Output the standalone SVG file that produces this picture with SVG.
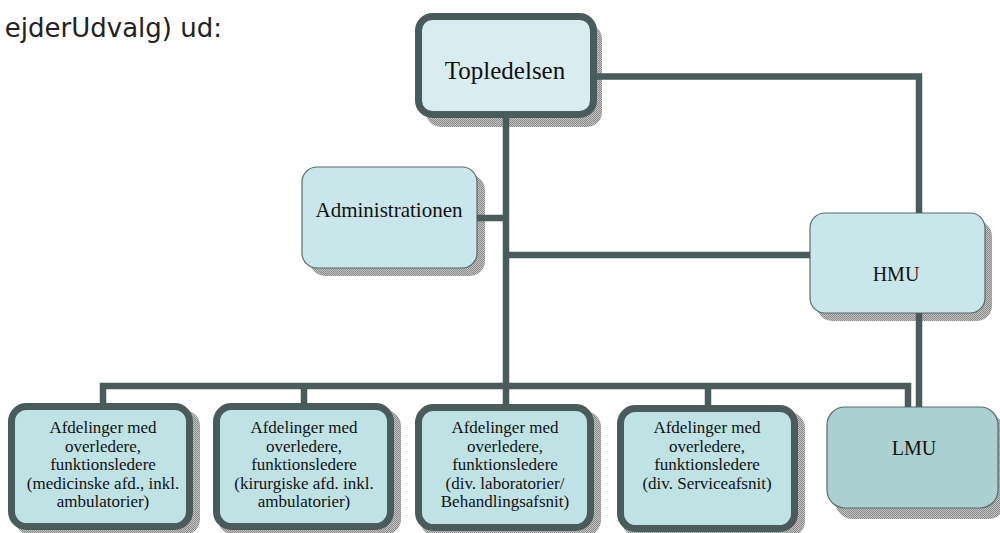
<svg xmlns="http://www.w3.org/2000/svg" width="1000" height="533" viewBox="0 0 1000 533">
  <defs>
    <pattern id="hatch" width="2" height="2" patternUnits="userSpaceOnUse">
      <rect width="2" height="2" fill="#c4c4c4"/>
      <rect width="1" height="1" fill="#8a8a8a"/>
      <rect x="1" y="1" width="1" height="1" fill="#8a8a8a"/>
    </pattern>
  </defs>
  <style>
    .shadow { fill: url(#hatch); }
    .thick { stroke: #4a5b5c; stroke-width: 7; }
    .thin { stroke: #5b6b6c; stroke-width: 1.2; }
    .conn { fill: none; stroke: #4a5b5c; stroke-width: 6.5; stroke-linecap: butt; stroke-linejoin: miter; }
    .t { font-family: "Liberation Serif", "Times New Roman", serif; fill: #111; text-anchor: middle; }
    .small { font-size: 17px; }
  </style>
  <rect width="1000" height="533" fill="#ffffff"/>
  <text x="222" y="37" font-family="DejaVu Sans, Verdana, sans-serif" font-size="26" fill="#222" text-anchor="end">ejderUdvalg) ud:</text>

  <g id="node-topledelsen">
    <rect class="shadow" x="426" y="24" width="176" height="103" rx="15"/>
    <rect class="thick" x="418.5" y="16.5" width="175" height="98" rx="14" fill="#d9edf1"/>
    <text class="t" x="505" y="79" font-size="25">Topledelsen</text>
  </g>
  <g id="node-administrationen">
    <rect class="shadow" x="310" y="175" width="175" height="101" rx="15"/>
    <rect class="thin" x="302" y="167" width="175" height="101" rx="15" fill="#c9e6ea"/>
    <text class="t" x="389" y="217" font-size="21">Administrationen</text>
  </g>
  <g id="node-hmu">
    <rect class="shadow" x="817" y="221" width="175" height="100" rx="15"/>
    <rect class="thin" x="810" y="213" width="175" height="100" rx="15" fill="#c9e6ea"/>
    <text class="t" x="896" y="281" font-size="20">HMU</text>
  </g>
  <g id="node-lmu">
    <rect class="shadow" x="835" y="415" width="171" height="104" rx="18"/>
    <rect class="thin" x="827" y="407" width="171" height="101" rx="18" fill="#abd0d2"/>
    <text class="t" x="914" y="455" font-size="20">LMU</text>
  </g>
  <g id="node-afd1">
    <rect class="shadow" x="15" y="410" width="185" height="125" rx="16"/>
    <rect class="thick" x="11.5" y="406.5" width="178" height="120" rx="15" fill="#bfe2e5"/>
    <text class="t small" x="103" y="433">Afdelinger med</text>
    <text class="t small" x="103" y="452">overledere,</text>
    <text class="t small" x="103" y="470">funktionsledere</text>
    <text class="t small" x="103" y="489">(medicinske afd., inkl.</text>
    <text class="t small" x="103" y="507">ambulatorier)</text>
  </g>
  <g id="node-afd2">
    <rect class="shadow" x="218" y="410" width="183" height="125" rx="16"/>
    <rect class="thick" x="216.5" y="406.5" width="174" height="120" rx="15" fill="#bfe2e5"/>
    <text class="t small" x="304" y="433">Afdelinger med</text>
    <text class="t small" x="304" y="452">overledere,</text>
    <text class="t small" x="304" y="470">funktionsledere</text>
    <text class="t small" x="304" y="489">(kirurgiske afd. inkl.</text>
    <text class="t small" x="304" y="507">ambulatorier)</text>
  </g>
  <g id="node-afd3">
    <rect class="shadow" x="420" y="411" width="181" height="125" rx="16"/>
    <rect class="thick" x="418.5" y="407.5" width="172" height="120" rx="15" fill="#bfe2e5"/>
    <text class="t small" x="505" y="433">Afdelinger med</text>
    <text class="t small" x="505" y="452">overledere,</text>
    <text class="t small" x="505" y="470">funktionsledere</text>
    <text class="t small" x="505" y="489">(div. laboratorier/</text>
    <text class="t small" x="505" y="507">Behandlingsafsnit)</text>
  </g>
  <g id="node-afd4">
    <rect class="shadow" x="622" y="412" width="183" height="125" rx="16"/>
    <rect class="thick" x="620.5" y="408.5" width="174" height="120" rx="15" fill="#bfe2e5"/>
    <text class="t small" x="707" y="433">Afdelinger med</text>
    <text class="t small" x="707" y="452">overledere,</text>
    <text class="t small" x="707" y="470">funktionsledere</text>
    <text class="t small" x="707" y="489">(div. Serviceafsnit)</text>
  </g>

  <g id="connectors">
    <path class="conn" d="M506 118 V404"/>
    <path class="conn" d="M597 76.5 H919 V213"/>
    <path class="conn" d="M477 218 H506"/>
    <path class="conn" d="M506 255 H810"/>
    <path class="conn" d="M919 313 V407"/>
    <path class="conn" d="M103 403 V386 H908 V407"/>
    <path class="conn" d="M304 386 V403"/>
    <path class="conn" d="M708 386 V405"/>
  </g>
</svg>
